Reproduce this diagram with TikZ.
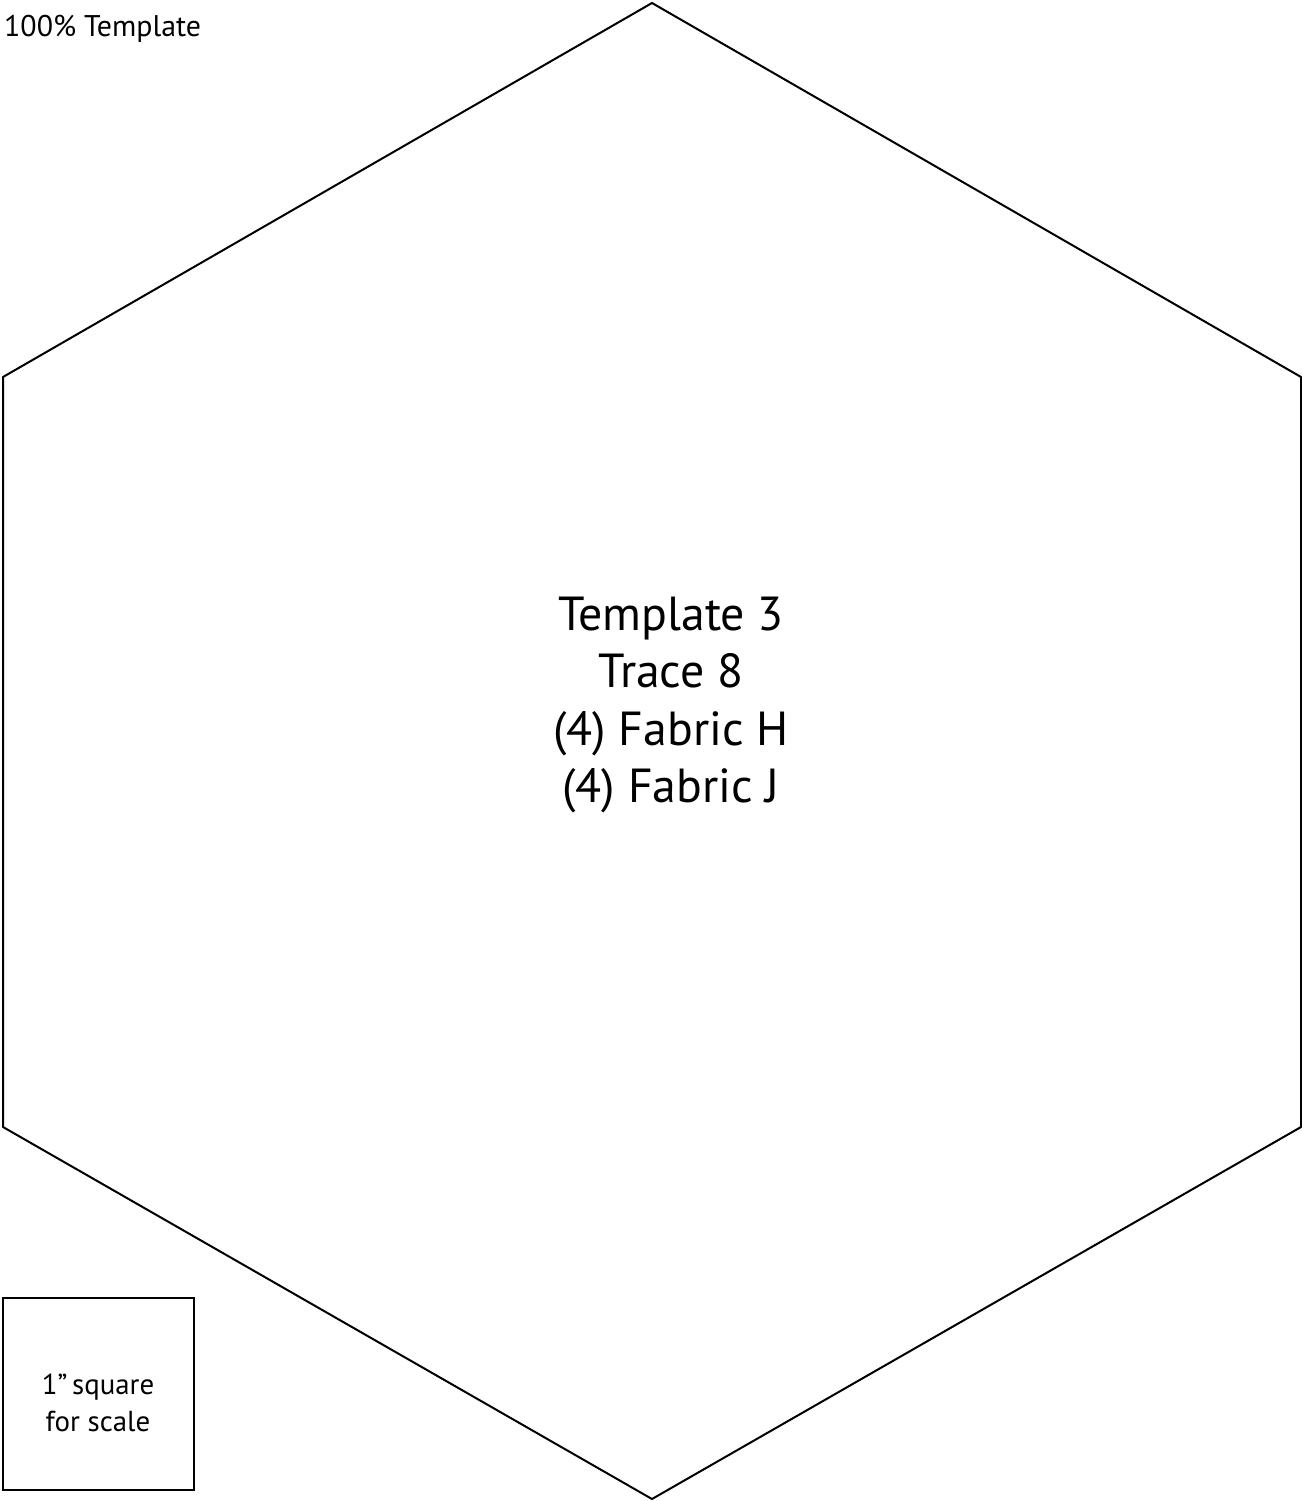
\documentclass[tikz,border=0pt]{standalone}
\usepackage{fontspec}
\setmainfont{PT Sans}
\begin{document}
\begin{tikzpicture}[x=1bp,y=-1bp,
  outline/.style={draw=black,line width=2bp,line join=miter},
  bigtxt/.style={font=\fontsize{48}{57}\selectfont,anchor=base,inner sep=0pt},
  smalltxt/.style={font=\fontsize{30}{37}\selectfont,anchor=base,inner sep=0pt}]
\useasboundingbox (0,0) rectangle (1302,1501);
\coordinate (t) at (652,3);
\coordinate (ur) at (1301,377);
\coordinate (lr) at (1301,1127);
\coordinate (b) at (652,1499);
\coordinate (ll) at (3,1127);
\coordinate (ul) at (3,377);
\draw[outline] (t) -- (ur) -- (lr) -- (b) -- (ll) -- (ul) -- cycle;
\node[smalltxt,anchor=base west] (hdr) at (4,37) {100\% Template};
\node[bigtxt] (l1) at (671,630) {Template 3};
\node[bigtxt] (l2) at (671,687) {Trace 8};
\node[bigtxt] (l3) at (671,745) {(4) Fabric H};
\node[bigtxt] (l4) at (671,802) {(4) Fabric J};
\draw[outline] (3,1298) rectangle (194,1490);
\node[smalltxt,font=\fontsize{29}{37}\selectfont] (s1) at (98,1394) {1\textquotedblright\,square};
\node[smalltxt,font=\fontsize{29}{37}\selectfont] (s2) at (98,1431) {for scale};
\end{tikzpicture}
\end{document}
